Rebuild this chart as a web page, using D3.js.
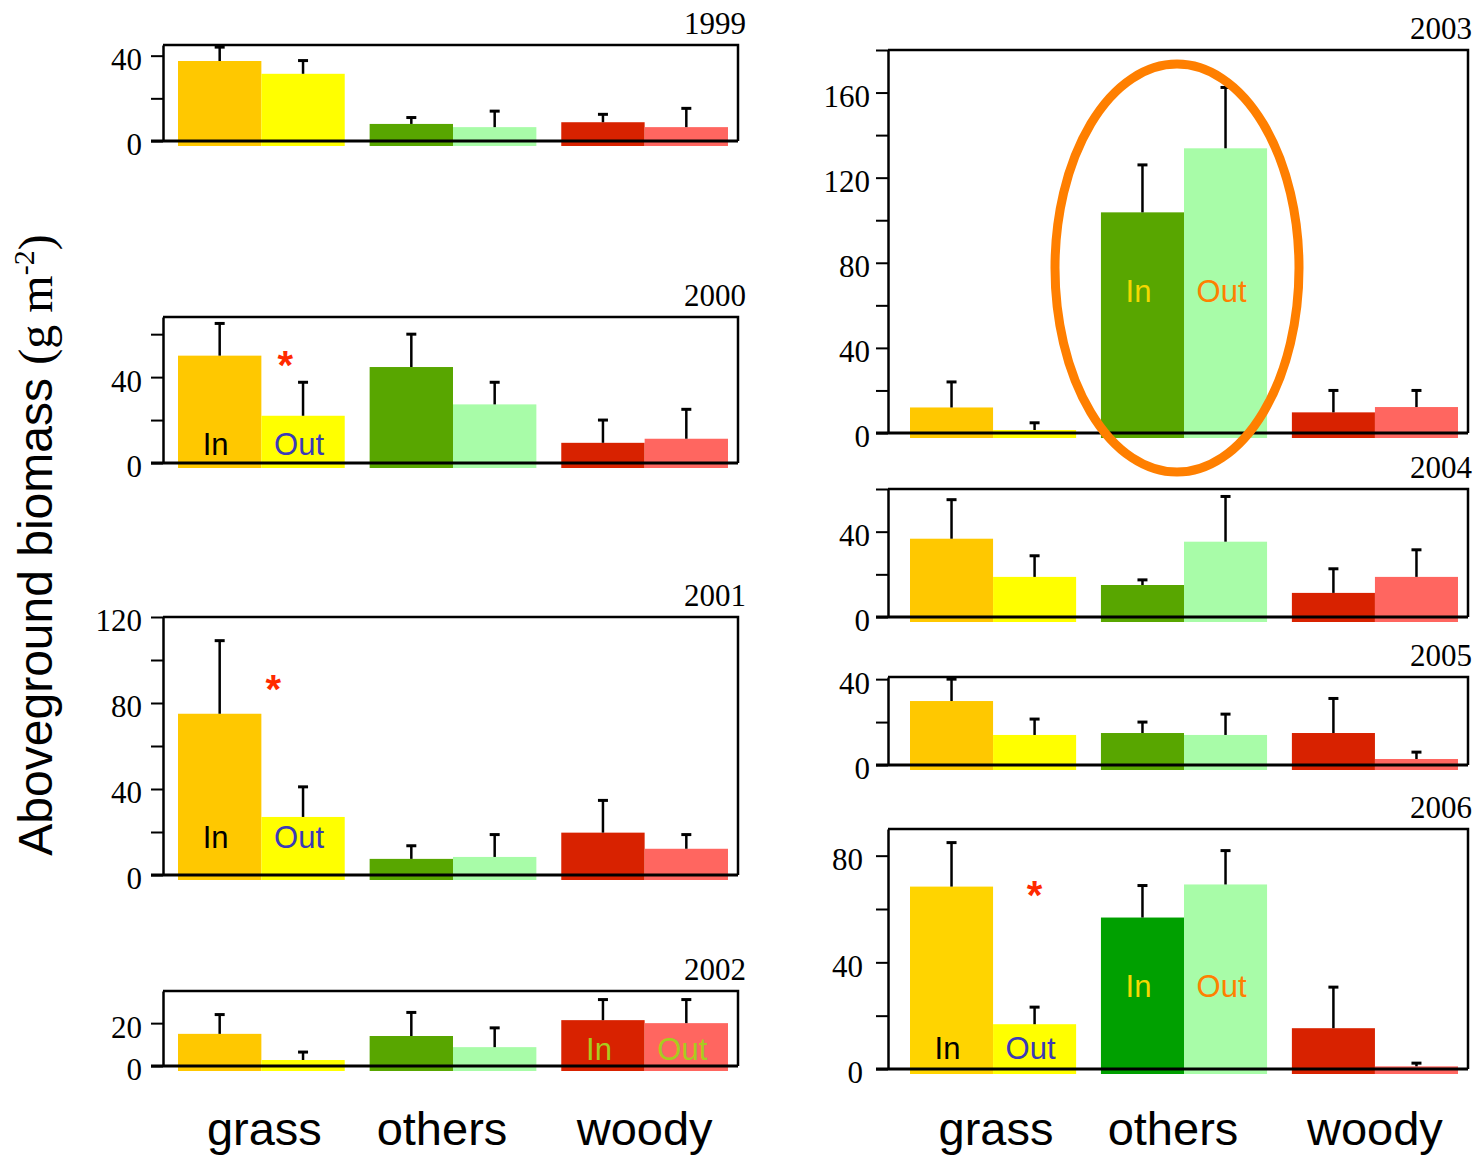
<!DOCTYPE html>
<html>
<head>
<meta charset="utf-8">
<script src="https://cdn.jsdelivr.net/npm/d3@7"></script>
<style>
  html, body { margin: 0; padding: 0; background: #fff; }
  svg { display: block; }
</style>
</head>
<body>
<svg id="chart" width="1479" height="1158"></svg>
<script>
// ---------------- DATA ----------------
const categories = ["grass", "others", "woody"];
const years = ["1999", "2000", "2001", "2002", "2003", "2004", "2005", "2006"];

// mean aboveground biomass (g m-2), inside (In) and outside (Out) exclosures
const grassIn   = [37.5, 50.0, 75.0, 15.0, 12.0, 36.7, 29.8, 68.4];
const grassOut  = [31.5, 22.0, 27.0,  2.8,  1.4, 18.8, 14.0, 16.8];
const othersIn  = [ 8.0, 44.7,  7.5, 14.0, 103.7, 15.0, 14.9, 56.8];
const othersOut = [ 6.5, 27.3,  8.4,  8.8, 133.8, 35.3, 14.0, 69.2];
const woodyIn   = [ 8.8,  9.4, 19.7, 21.4,  9.7, 11.3, 14.9, 15.3];
const woodyOut  = [ 6.5, 11.3, 12.2, 20.0, 12.2, 18.8,  2.8,  1.0];

// standard errors (upper whisker length)
const grassInErr   = [6.5, 15.0, 34.0,  9.0, 12.0, 18.3, 10.2, 16.5];
const grassOutErr  = [6.2, 15.6, 14.0,  3.7,  3.4,  9.9,  7.4,  6.4];
const othersInErr  = [3.0, 15.3,  6.1, 11.0, 22.3,  2.4,  5.1, 12.0];
const othersOutErr = [7.5, 10.3, 10.4,  9.0, 28.6, 21.2,  9.7, 12.7];
const woodyInErr   = [3.7, 10.6, 15.0,  9.6, 10.3, 11.3, 16.1, 15.4];
const woodyOutErr  = [8.8, 13.7,  6.6, 11.0,  7.8, 12.7,  3.2,  1.2];

// y-axis extents and tick labels per panel
const yMax = [45, 68, 120, 35, 180, 60, 41, 90];
const tickStep = [20, 20, 20, 20, 20, 20, 20, 20];
const labelStep = [40, 40, 40, 20, 40, 40, 40, 40];

// significance marks (year, category)
const sigYears = ["2000", "2001", "2006"];
const sigCats  = ["grass", "grass", "grass"];
const sigLevel = [48, 89, 67];

// In / Out annotations inside bars
const noteYears  = ["2000", "2001", "2002", "2003", "2006", "2006"];
const noteCats   = ["grass", "grass", "woody", "others", "grass", "others"];
const noteLevel  = [3.7, 12.5, 2.8, 61.5, 3.7, 27];

// ---------------- STYLE / LAYOUT ----------------
const inColors     = ["#ffc800", "#58a600", "#d82200"];
const inColors2006 = ["#ffd400", "#00a000", "#d82200"];
const outColors    = ["#ffff00", "#a8fca8", "#ff6660"];
const noteColorsIn  = { "2000": "#000000", "2001": "#000000", "2002": "#a8cc1e", "2003": "#f4d800", "2006grass": "#000000", "2006others": "#f4d800" };
const noteColorsOut = { "2000": "#3a3ab8", "2001": "#3a3ab8", "2002": "#a8cc1e", "2003": "#ff8000", "2006grass": "#3a3ab8", "2006others": "#ff8000" };
const catLabelShift = [3, -11, 0];

const columns = [
  { axisX: 163, right: 738, bandL: 178, bandR: 728, labelPad: 9 },
  { axisX: 888, right: 1468, bandL: 910, bandR: 1458, labelPad: 6 }
];
const layout = [
  { col: 0, top: 45,  zero: 141, pad: 0 },
  { col: 0, top: 317, zero: 463, pad: 0 },
  { col: 0, top: 617, zero: 875, pad: 0 },
  { col: 0, top: 991, zero: 1066, pad: 0 },
  { col: 1, top: 50,  zero: 433, pad: 0 },
  { col: 1, top: 489, zero: 617, pad: 0 },
  { col: 1, top: 677, zero: 765, pad: 0 },
  { col: 1, top: 829, zero: 1069, pad: 7 }
];

const svg = d3.select("#chart");
const serif = "'Liberation Serif', 'Times New Roman', serif";
const sans = "'Liberation Sans', Arial, sans-serif";

const inSeries  = [grassIn, othersIn, woodyIn];
const outSeries = [grassOut, othersOut, woodyOut];
const inErrs    = [grassInErr, othersInErr, woodyInErr];
const outErrs   = [grassOutErr, othersOutErr, woodyOutErr];

years.forEach((yr, i) => {
  const L = layout[i];
  const C = columns[L.col];
  const g = svg.append("g");

  const x = d3.scaleBand().domain(categories).range([C.bandL, C.bandR]).paddingInner(0.13).paddingOuter(0);
  const xs = d3.scaleBand().domain(["In", "Out"]).range([0, x.bandwidth()]).padding(0);
  const y = d3.scaleLinear().domain([0, yMax[i]]).range([L.zero, L.top]);

  // bars
  const rows = [];
  categories.forEach((c, ci) => {
    rows.push({ cat: c, s: "In",  v: inSeries[ci][i],  e: inErrs[ci][i],
                color: (yr === "2006" ? inColors2006 : inColors)[ci] });
    rows.push({ cat: c, s: "Out", v: outSeries[ci][i], e: outErrs[ci][i], color: outColors[ci] });
  });

  g.selectAll("rect.bar").data(rows).join("rect")
    .attr("class", "bar")
    .attr("x", d => x(d.cat) + xs(d.s))
    .attr("width", xs.bandwidth())
    .attr("y", d => y(d.v))
    .attr("height", d => y(0) - y(d.v) + 5)
    .attr("fill", d => d.color);

  // error bars
  const eb = g.selectAll("g.err").data(rows).join("g").attr("class", "err");
  eb.append("line")
    .attr("x1", d => x(d.cat) + xs(d.s) + xs.bandwidth() / 2)
    .attr("x2", d => x(d.cat) + xs(d.s) + xs.bandwidth() / 2)
    .attr("y1", d => y(d.v))
    .attr("y2", d => y(d.v + d.e))
    .attr("stroke", "#000").attr("stroke-width", 2.5);
  eb.append("line")
    .attr("x1", d => x(d.cat) + xs(d.s) + xs.bandwidth() / 2 - 5)
    .attr("x2", d => x(d.cat) + xs(d.s) + xs.bandwidth() / 2 + 5)
    .attr("y1", d => y(d.v + d.e))
    .attr("y2", d => y(d.v + d.e))
    .attr("stroke", "#000").attr("stroke-width", 3);

  // frame: top and right
  g.append("path")
    .attr("d", `M${C.axisX},${y(yMax[i])}H${C.right}V${y(0)}`)
    .attr("fill", "none").attr("stroke", "#000").attr("stroke-width", 2.5);

  // y axis
  const ticks = d3.range(0, yMax[i] + 0.001, tickStep[i]);
  const ax = d3.axisLeft(y).tickValues(ticks).tickSize(12).tickSizeOuter(0).tickPadding(C.labelPad + L.pad)
    .tickFormat(v => (v % labelStep[i] === 0 ? v : ""));
  const axg = g.append("g").attr("transform", `translate(${C.axisX},0)`).call(ax);
  axg.select(".domain").attr("stroke", "#000").attr("stroke-width", 2.5);
  axg.selectAll(".tick line").attr("stroke", "#000").attr("stroke-width", 2);
  axg.selectAll(".tick text").attr("font-family", serif).attr("font-size", 31)
    .attr("fill", "#000").attr("dy", "0.45em");

  // zero baseline
  g.append("line")
    .attr("x1", C.axisX - 12).attr("x2", C.right)
    .attr("y1", y(0)).attr("y2", y(0))
    .attr("stroke", "#000").attr("stroke-width", 3);

  // year label
  g.append("text")
    .attr("x", C.right + (L.col === 0 ? 8 : 4)).attr("y", y(yMax[i]) - 11)
    .attr("text-anchor", "end")
    .attr("font-family", serif).attr("font-size", 31)
    .text(yr);

  // significance asterisks
  sigYears.forEach((sy, k) => {
    if (sy !== yr) return;
    g.append("text")
      .attr("x", x(sigCats[k]) + xs("Out") + (yr === "2001" ? 12 : (yr === "2000" ? 24 : xs.bandwidth() / 2)))
      .attr("y", y(sigLevel[k]) + 19)
      .attr("text-anchor", "middle")
      .attr("font-family", sans).attr("font-weight", "bold").attr("font-size", 40)
      .attr("fill", "#ff2a00")
      .text("*");
  });

  // In / Out notes
  noteYears.forEach((ny, k) => {
    if (ny !== yr) return;
    const key = yr === "2006" ? yr + noteCats[k] : yr;
    ["In", "Out"].forEach(s => {
      g.append("text")
        .attr("x", x(noteCats[k]) + xs(s) + xs.bandwidth() / 2 - 4)
        .attr("y", y(noteLevel[k]))
        .attr("text-anchor", "middle")
        .attr("font-family", sans).attr("font-size", 31)
        .attr("fill", s === "In" ? noteColorsIn[key] : noteColorsOut[key])
        .text(s);
    });
  });

  // highlight ellipse on 2003 "others"
  if (yr === "2003") {
    g.append("ellipse")
      .attr("cx", x("others") + x.bandwidth() / 2 - 7)
      .attr("cy", y(77.5))
      .attr("rx", 122).attr("ry", 204)
      .attr("fill", "none").attr("stroke", "#ff7f00").attr("stroke-width", 9);
  }

  // category labels under bottom panels
  if (yr === "2002" || yr === "2006") {
    g.selectAll("text.cat").data(categories).join("text")
      .attr("class", "cat")
      .attr("x", (d, j) => x(d) + x.bandwidth() / 2 + catLabelShift[j])
      .attr("y", 1145)
      .attr("text-anchor", "middle")
      .attr("font-family", sans).attr("font-size", 47)
      .text(d => d);
  }
});

// y-axis title
const yt = svg.append("text")
  .attr("transform", "translate(52,545) rotate(-90)")
  .attr("text-anchor", "middle")
  .attr("font-size", 48);
yt.append("tspan").attr("font-family", sans).text("Aboveground biomass ");
yt.append("tspan").attr("font-family", serif).text("(g m");
yt.append("tspan").attr("font-family", serif).attr("font-size", 30).attr("dy", -18).text("-2");
yt.append("tspan").attr("font-family", serif).attr("dy", 18).text(")");
</script>
</body>
</html>
